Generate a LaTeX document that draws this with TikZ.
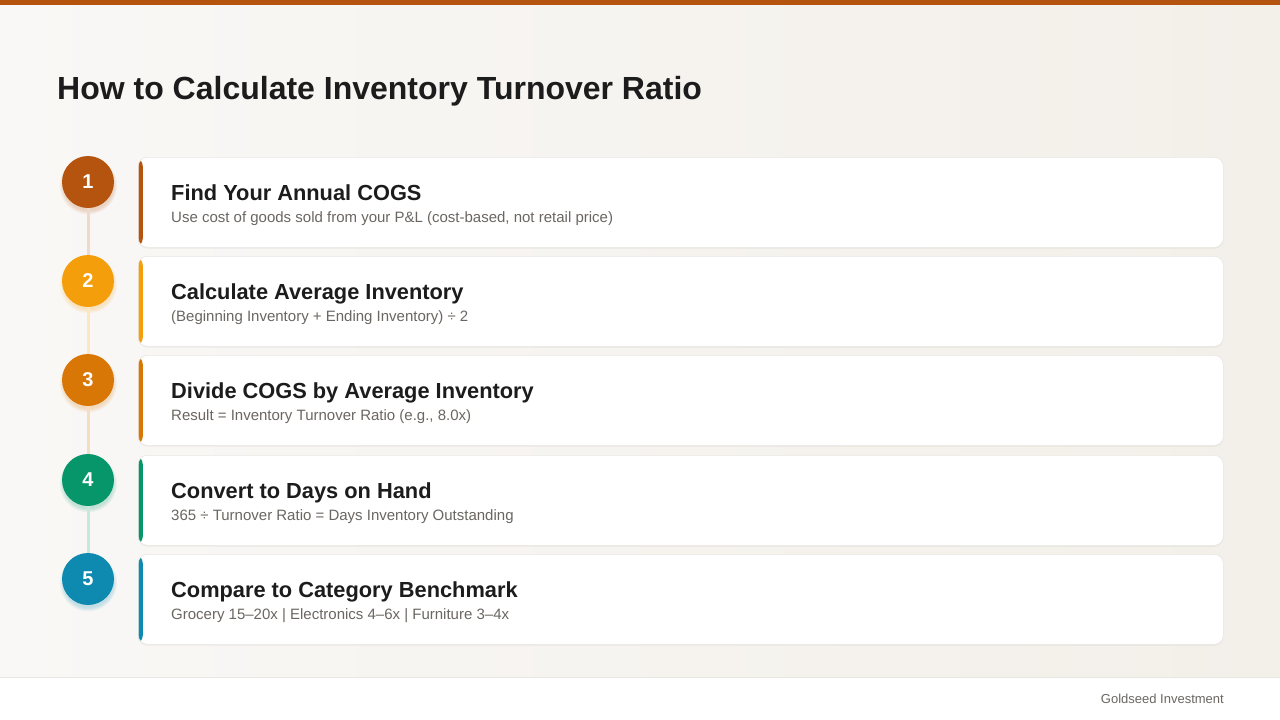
\documentclass[tikz,border=0pt]{standalone}
\usepackage{fontspec}
\setmainfont{Liberation Sans}
\usetikzlibrary{positioning,shadows}

% palette
\definecolor{stepone}{HTML}{B5540F}
\definecolor{steptwo}{HTML}{F59E0B}
\definecolor{stepthree}{HTML}{D97706}
\definecolor{stepfour}{HTML}{07966A}
\definecolor{stepfive}{HTML}{0E89B0}
\definecolor{headtext}{HTML}{1C1C1C}
\definecolor{subtext}{HTML}{6B6661}
\definecolor{cardline}{HTML}{EAE7E2}
\definecolor{pagetop}{HTML}{F9F8F6}
\definecolor{pagebottom}{HTML}{F3EFE9}

\tikzset{
  card/.style={draw=cardline, line width=0.6pt, fill=white, rounded corners=9pt,
    minimum width=1085pt, minimum height=90pt, anchor=north west, inner sep=0pt,
    drop shadow={shadow xshift=0pt, shadow yshift=-1.5pt, opacity=0.07},
    path picture={\fill[#1] ([xshift=-1pt]path picture bounding box.north west) rectangle ([xshift=4.5pt]path picture bounding box.south west);}},
  badge/.style={circle, fill=#1, minimum size=52pt, inner sep=0pt, text=white,
    font=\fontsize{20}{24}\selectfont\bfseries,
    circular drop shadow={shadow xshift=0pt, shadow yshift=-3pt, shadow scale=1.12, fill=#1, opacity=0.22}},
  link/.style={line width=3pt, draw=#1},
  heading/.style={anchor=base west, inner sep=0pt, text=headtext, font=\fontsize{21.8}{26}\selectfont\bfseries},
  detail/.style={anchor=base west, inner sep=0pt, text=subtext, font=\fontsize{15}{18}\selectfont},
}

\begin{document}
\begin{tikzpicture}[x=1pt, y=-1pt]

    \useasboundingbox (0,0) rectangle (1280,720);

    % background, top bar and footer band
    \shade[left color=pagetop, right color=pagebottom] (0,5) rectangle (1280,677);
    \fill[stepone] (0,0) rectangle (1280,5);
    \fill[white] (0,677) rectangle (1280,720);
    \draw[cardline, line width=0.8pt] (0,677) -- (1280,677);

    % title and footer
    \node[anchor=base west, inner sep=0pt, text=headtext, font=\fontsize{32}{38}\selectfont\bfseries] (title) at (57,99) {How to Calculate Inventory Turnover Ratio};
    \node[anchor=base east, inner sep=0pt, text=subtext, font=\fontsize{13}{16}\selectfont] (footer) at (1224,703) {Goldseed Investment};

    % cards with coloured left edge
    \node[card=stepone] (c1) at (138,157) {};
    \node[card=steptwo] (c2) at (138,256) {};
    \node[card=stepthree] (c3) at (138,355) {};
    \node[card=stepfour] (c4) at (138,455) {};
    \node[card=stepfive] (c5) at (138,554) {};

    % headings and details inside the cards
    \node[heading] (h1) at ([xshift=33pt, yshift=-43pt]c1.north west) {Find Your Annual COGS};
    \node[detail] (d1) at ([xshift=33pt, yshift=-65pt]c1.north west) {Use cost of goods sold from your P\&L (cost-based, not retail price)};
    \node[heading] (h2) at ([xshift=33pt, yshift=-43pt]c2.north west) {Calculate Average Inventory};
    \node[detail] (d2) at ([xshift=33pt, yshift=-65pt]c2.north west) {(Beginning Inventory + Ending Inventory) ÷ 2};
    \node[heading] (h3) at ([xshift=33pt, yshift=-43pt]c3.north west) {Divide COGS by Average Inventory};
    \node[detail] (d3) at ([xshift=33pt, yshift=-65pt]c3.north west) {Result = Inventory Turnover Ratio (e.g., 8.0x)};
    \node[heading] (h4) at ([xshift=33pt, yshift=-43pt]c4.north west) {Convert to Days on Hand};
    \node[detail] (d4) at ([xshift=33pt, yshift=-65pt]c4.north west) {365 ÷ Turnover Ratio = Days Inventory Outstanding};
    \node[heading] (h5) at ([xshift=33pt, yshift=-43pt]c5.north west) {Compare to Category Benchmark};
    \node[detail] (d5) at ([xshift=33pt, yshift=-65pt]c5.north west) {Grocery 15–20x | Electronics 4–6x | Furniture 3–4x};

    % numbered badges
    \node[badge=stepone] (n1) at (88,182) {1};
    \node[badge=steptwo] (n2) at (88,281) {2};
    \node[badge=stepthree] (n3) at (88,380) {3};
    \node[badge=stepfour] (n4) at (88,480) {4};
    \node[badge=stepfive] (n5) at (88,579) {5};

    % light links between badges
    \draw[link=stepone!22] (n1) -- (n2);
    \draw[link=steptwo!25] (n2) -- (n3);
    \draw[link=stepthree!25] (n3) -- (n4);
    \draw[link=stepfour!22] (n4) -- (n5);

\end{tikzpicture}
\end{document}
